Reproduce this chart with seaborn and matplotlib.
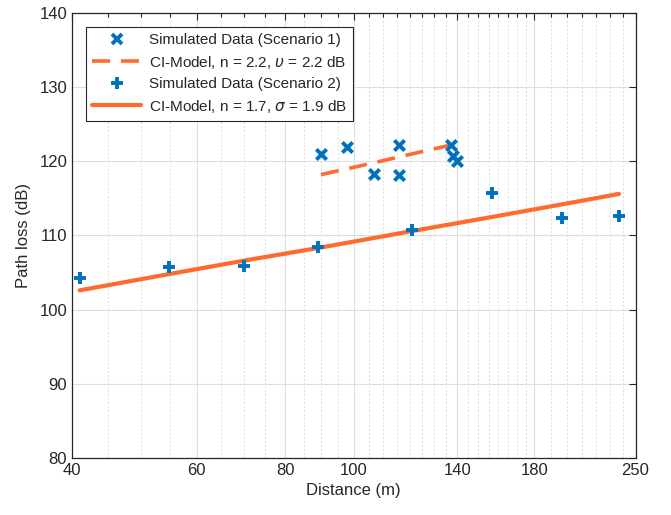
import numpy as np
import pandas as pd
import matplotlib
matplotlib.use('Agg')
import matplotlib.pyplot as plt
import seaborn as sns
from matplotlib.ticker import FixedLocator, NullFormatter
from matplotlib.lines import Line2D

## data
s1_dist = [89.9, 97.9, 106.8, 115.9, 115.9, 137.2, 138.1, 139.9]
s1_pl = [121.0, 121.9, 118.3, 122.2, 118.2, 122.2, 120.7, 120.0]

s2_dist = [41.0, 54.9, 69.9, 88.9, 121.0, 156.9, 197.0, 236.9]
s2_pl = [104.3, 105.7, 105.9, 108.5, 110.7, 115.7, 112.3, 112.6]

## CI model lines at the data distances
ci1_dist = [89.9, 97.9, 106.8, 115.9, 137.2, 139.9]
ci1_pl = [118.2, 119.0, 119.8, 120.6, 122.2, 122.4]
ci2_dist = [41.0, 54.9, 69.9, 88.9, 121.0, 156.9, 197.0, 236.9]
ci2_pl = [102.6, 104.8, 106.6, 108.3, 110.6, 112.5, 114.2, 115.6]

labels = ['Simulated Data (Scenario 1)',
          r'CI-Model, n = 2.2, $\upsilon$ = 2.2 dB',
          'Simulated Data (Scenario 2)',
          r'CI-Model, n = 1.7, $\sigma$ = 1.9 dB']

x_major = [40, 60, 80, 100, 140, 180, 250]
x_minor = list(range(45, 180, 5)) + list(range(190, 250, 10))
y_major = [80, 90, 100, 110, 120, 130, 140]

blue = '#0072BD'
orange = '#FF6A2E'

sns.set_style('white')
plt.rcParams['font.family'] = ['Liberation Sans', 'DejaVu Sans']
plt.rcParams['mathtext.fontset'] = 'dejavusans'

df1 = pd.DataFrame({'d': s1_dist, 'pl': s1_pl})
df2 = pd.DataFrame({'d': s2_dist, 'pl': s2_pl})
m1 = pd.DataFrame({'d': ci1_dist, 'pl': ci1_pl})
m2 = pd.DataFrame({'d': ci2_dist, 'pl': ci2_pl})

fig = plt.figure(figsize=(6.71, 5.15), dpi=100)
ax = fig.add_axes([0.1073, 0.1107, 0.8398, 0.8641])

sns.lineplot(data=m2, x='d', y='pl', ax=ax, color=orange, linewidth=3, zorder=3)
sns.lineplot(data=m1, x='d', y='pl', ax=ax, color=orange, linewidth=2.6,
             dashes=False, zorder=3).lines[-1].set_dashes([5, 3])
sns.scatterplot(data=df1, x='d', y='pl', ax=ax, marker='x', color=blue,
                s=55, linewidth=2.8, zorder=4)
sns.scatterplot(data=df2, x='d', y='pl', ax=ax, marker='+', color=blue,
                s=85, linewidth=2.8, zorder=4)

ax.set_xscale('log')
ax.set_xlim(40, 250)
ax.set_ylim(80, 140)
ax.xaxis.set_major_locator(FixedLocator(x_major))
ax.xaxis.set_minor_locator(FixedLocator(x_minor))
ax.set_xticklabels([str(v) for v in x_major])
ax.xaxis.set_minor_formatter(NullFormatter())
ax.set_yticks(y_major)

ax.grid(True, which='major', color='#dedede', linewidth=0.8, linestyle='-')
ax.grid(True, which='minor', axis='x', color='#dcdcdc', linewidth=0.7, linestyle=(0, (2, 2)))
ax.set_axisbelow(True)

ax.tick_params(which='both', direction='in', top=True, right=True, colors='#262626',
               labelsize=12, width=0.8)
ax.tick_params(which='major', length=5)
ax.tick_params(which='minor', length=3)
for sp in ax.spines.values():
    sp.set_color('#262626')
    sp.set_linewidth(0.9)

ax.set_xlabel('Distance (m)', fontsize=12, color='#262626')
ax.set_ylabel('Path loss (dB)', fontsize=12, color='#262626', labelpad=6)

handles = [Line2D([], [], color=blue, marker='x', linestyle='none', markersize=7, markeredgewidth=2.8),
           Line2D([], [], color=orange, linewidth=2.6, dashes=[5, 3]),
           Line2D([], [], color=blue, marker='+', linestyle='none', markersize=9, markeredgewidth=2.8),
           Line2D([], [], color=orange, linewidth=3)]
leg = ax.legend(handles, labels, loc='upper left', bbox_to_anchor=(0.025, 0.968),
                fontsize=11, frameon=True, fancybox=False, framealpha=1,
                edgecolor='#262626', handlelength=3.2, borderpad=0.4,
                borderaxespad=0.0, labelspacing=0.42, handletextpad=0.5)
leg.get_frame().set_linewidth(0.8)

fig.savefig('out.png', dpi=100)
